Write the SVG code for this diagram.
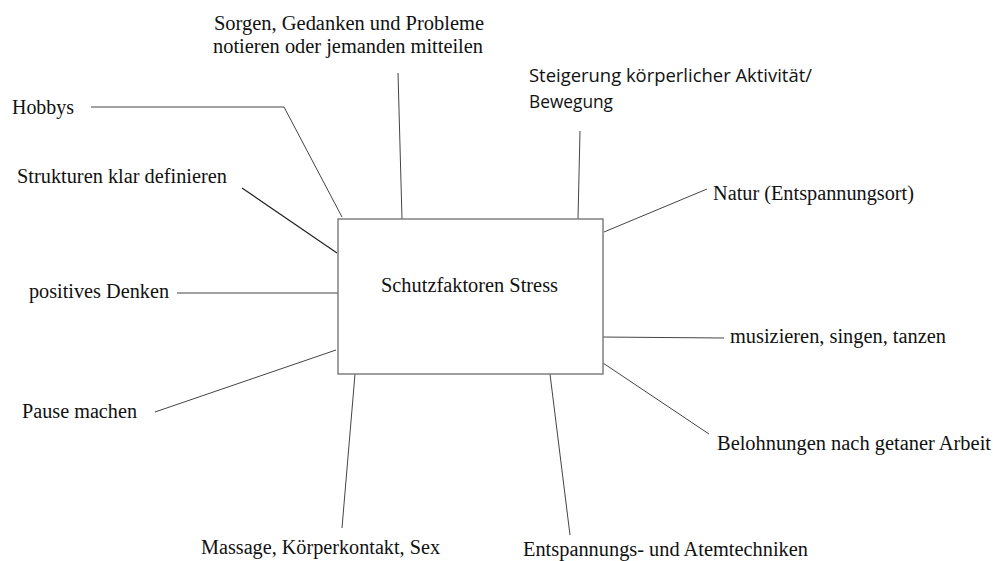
<svg xmlns="http://www.w3.org/2000/svg" width="993" height="561" viewBox="0 0 993 561">
<style>
text.t{font-family:'Liberation Serif','Times New Roman',serif;font-size:20px;fill:#111}
text.s{font-family:'Open Sans','Noto Sans','Liberation Sans',sans-serif;font-size:18.5px;fill:#111}
.c{stroke:#444;stroke-width:1;fill:none}
.box{fill:#fff;stroke:#777;stroke-width:1.4}
</style>
<rect width="993" height="561" fill="#fff"/>
<g id="connectors">
<polyline class="c" points="91,107 284,107 342,217"/>
<line class="c" x1="242" y1="188" x2="337" y2="253" style="stroke:#222;stroke-width:1.2"/>
<line class="c" x1="398" y1="73" x2="402" y2="219"/>
<line class="c" x1="580" y1="131" x2="578" y2="219"/>
<line class="c" x1="604" y1="232" x2="707" y2="189"/>
<line class="c" x1="600" y1="337" x2="724" y2="338"/>
<line class="c" x1="603" y1="363" x2="709" y2="434"/>
<line class="c" x1="177" y1="293" x2="338" y2="293"/>
<line class="c" x1="155" y1="412" x2="336" y2="350"/>
<line class="c" x1="355" y1="374" x2="342" y2="528"/>
<line class="c" x1="550" y1="374" x2="570" y2="535"/>
</g>
<g id="center">
<rect class="box" x="338" y="219" width="265" height="155"/>
<text class="t" x="381" y="292" textLength="177" lengthAdjust="spacingAndGlyphs">Schutzfaktoren Stress</text>
</g>
<g id="n-sorgen">
<text class="t" x="214" y="30" textLength="270" lengthAdjust="spacingAndGlyphs">Sorgen, Gedanken und Probleme</text>
<text class="t" x="213" y="53" textLength="270" lengthAdjust="spacingAndGlyphs">notieren oder jemanden mitteilen</text>
</g>
<g id="n-steigerung">
<text class="s" x="529" y="82" textLength="283" lengthAdjust="spacingAndGlyphs">Steigerung körperlicher Aktivität/</text>
<text class="s" x="529" y="108" textLength="84" lengthAdjust="spacingAndGlyphs">Bewegung</text>
</g>
<g id="n-hobbys"><text class="t" x="12" y="114" textLength="62" lengthAdjust="spacingAndGlyphs">Hobbys</text></g>
<g id="n-strukturen"><text class="t" x="17" y="183" textLength="210" lengthAdjust="spacingAndGlyphs">Strukturen klar definieren</text></g>
<g id="n-positiv"><text class="t" x="29" y="298" textLength="140" lengthAdjust="spacingAndGlyphs">positives Denken</text></g>
<g id="n-pause"><text class="t" x="22" y="418" textLength="115" lengthAdjust="spacingAndGlyphs">Pause machen</text></g>
<g id="n-massage"><text class="t" x="201" y="554" textLength="239" lengthAdjust="spacingAndGlyphs">Massage, Körperkontakt, Sex</text></g>
<g id="n-entspannung"><text class="t" x="523" y="556" textLength="285" lengthAdjust="spacingAndGlyphs">Entspannungs- und Atemtechniken</text></g>
<g id="n-natur"><text class="t" x="713" y="200" textLength="201" lengthAdjust="spacingAndGlyphs">Natur (Entspannungsort)</text></g>
<g id="n-musik"><text class="t" x="730" y="343" textLength="216" lengthAdjust="spacingAndGlyphs">musizieren, singen, tanzen</text></g>
<g id="n-belohnung"><text class="t" x="717" y="450" textLength="274" lengthAdjust="spacingAndGlyphs">Belohnungen nach getaner Arbeit</text></g>
</svg>
